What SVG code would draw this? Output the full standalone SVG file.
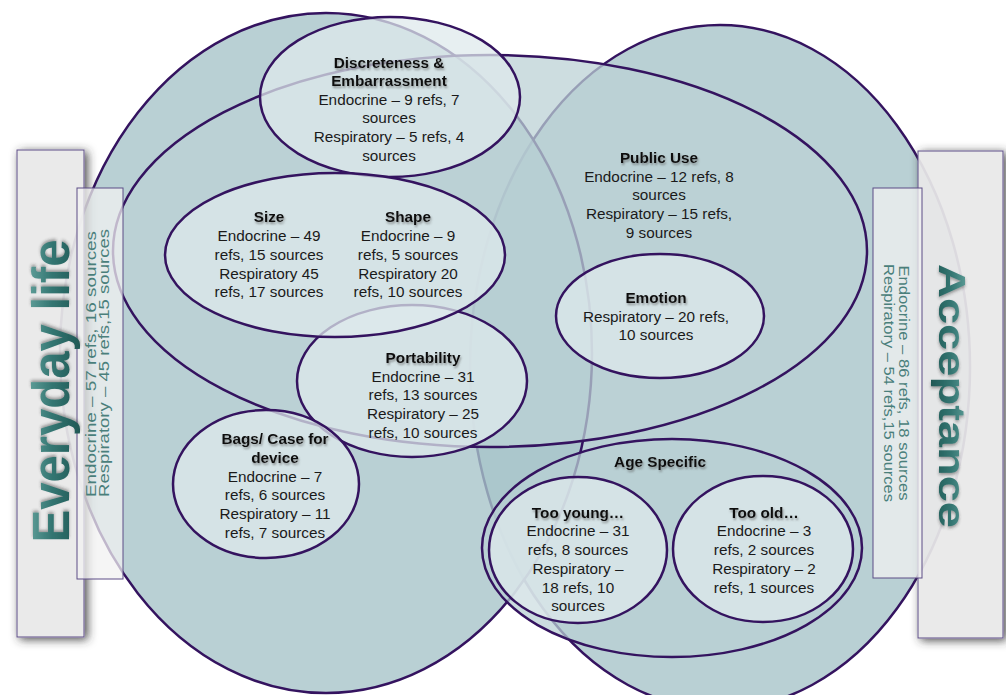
<svg xmlns="http://www.w3.org/2000/svg" width="1006" height="695" viewBox="0 0 1006 695">
  <defs>
    <style>
      .big { fill: #a8c4c9; fill-opacity: 0.8; stroke: #34135f; stroke-width: 2.5; }
      .mid { fill: #bcd1d5; fill-opacity: 0.74; stroke: #34135f; stroke-width: 2.5; }
      .lt { fill: #dfeaec; fill-opacity: 0.74; stroke: #34135f; stroke-width: 2.5; }
      .age { fill: #b9d0d4; fill-opacity: 0.74; stroke: #34135f; stroke-width: 2.5; }
      .t { font-family: "Liberation Sans", Arial, sans-serif; font-size: 15.3px; fill: #1a1a1a; text-anchor: middle; }
      .h { font-weight: bold; fill: #111; filter: url(#tsh); }
      .outer { fill: #e8e8e8; fill-opacity: 0.93; stroke: #5c4d86; stroke-width: 1; filter: url(#boxsh); }
      .inner { fill: #f2f2f2; fill-opacity: 0.74; stroke: #5c4d86; stroke-width: 1; }
      .bart { font-family: "Liberation Sans", Arial, sans-serif; font-size: 15px; fill: #4a7f7b; text-anchor: middle; }
      .bign { font-family: "Liberation Sans", Arial, sans-serif; font-weight: bold; fill: url(#teal); text-anchor: middle; filter: url(#bigsh); }
    </style>
    <linearGradient id="teal" x1="0" y1="0" x2="0" y2="1">
      <stop offset="0" stop-color="#6aa8a2"/>
      <stop offset="0.5" stop-color="#347672"/>
      <stop offset="1" stop-color="#1f5855"/>
    </linearGradient>
    <filter id="tsh" x="-10%" y="-30%" width="120%" height="160%">
      <feGaussianBlur in="SourceAlpha" stdDeviation="1.2"/>
      <feOffset dx="1" dy="1.5" result="b"/>
      <feFlood flood-color="#555" flood-opacity="0.6"/>
      <feComposite in2="b" operator="in"/>
      <feMerge><feMergeNode/><feMergeNode in="SourceGraphic"/></feMerge>
    </filter>
    <filter id="bigsh" x="-20%" y="-10%" width="140%" height="120%">
      <feGaussianBlur in="SourceAlpha" stdDeviation="1.5"/>
      <feOffset dx="2" dy="0" result="b"/>
      <feFlood flood-color="#333" flood-opacity="0.45"/>
      <feComposite in2="b" operator="in"/>
      <feMerge><feMergeNode/><feMergeNode in="SourceGraphic"/></feMerge>
    </filter>
    <filter id="boxsh" x="-40%" y="-10%" width="180%" height="120%">
      <feGaussianBlur in="SourceAlpha" stdDeviation="5"/>
      <feOffset dx="3" dy="2" result="b"/>
      <feFlood flood-color="#333" flood-opacity="0.95"/>
      <feComposite in2="b" operator="in" result="s"/>
      <feComposite in="s" in2="SourceAlpha" operator="out"/>
      <feMerge><feMergeNode/><feMergeNode in="SourceGraphic"/></feMerge>
    </filter>
  </defs>

  <!-- large theme circles -->
  <g id="acceptance-circle"><ellipse class="big" cx="720" cy="367" rx="250" ry="342"/></g>
  <g id="everyday-circle"><ellipse class="big" cx="326" cy="353" rx="266" ry="340"/></g>

  <!-- shared public-use band -->
  <g id="public-use">
    <ellipse class="mid" cx="490" cy="251" rx="377" ry="196"/>
    <text class="t h" x="659" y="163">Public Use</text>
    <text class="t" x="659" y="182">Endocrine – 12 refs, 8</text>
    <text class="t" x="659" y="200">sources</text>
    <text class="t" x="659" y="219">Respiratory – 15 refs,</text>
    <text class="t" x="659" y="238">9 sources</text>
  </g>

  <g id="discreteness">
    <ellipse class="lt" cx="390" cy="97" rx="130" ry="80"/>
    <text class="t h" x="389" y="68">Discreteness &amp;</text>
    <text class="t h" x="389" y="86">Embarrassment</text>
    <text class="t" x="389" y="105">Endocrine – 9 refs, 7</text>
    <text class="t" x="389" y="123">sources</text>
    <text class="t" x="389" y="142">Respiratory – 5 refs, 4</text>
    <text class="t" x="389" y="161">sources</text>
  </g>

  <g id="portability">
    <ellipse class="lt" cx="412" cy="381" rx="115" ry="76"/>
    <text class="t h" x="423" y="363">Portability</text>
    <text class="t" x="423" y="382">Endocrine – 31</text>
    <text class="t" x="423" y="400">refs, 13 sources</text>
    <text class="t" x="423" y="419">Respiratory – 25</text>
    <text class="t" x="423" y="438">refs, 10 sources</text>
  </g>

  <g id="size-shape">
    <ellipse class="lt" cx="335" cy="255" rx="170" ry="82"/>
    <text class="t h" x="269" y="222">Size</text>
    <text class="t" x="269" y="241">Endocrine – 49</text>
    <text class="t" x="269" y="260">refs, 15 sources</text>
    <text class="t" x="269" y="279">Respiratory 45</text>
    <text class="t" x="269" y="297">refs, 17 sources</text>
    <text class="t h" x="408" y="222">Shape</text>
    <text class="t" x="408" y="241">Endocrine – 9</text>
    <text class="t" x="408" y="260">refs, 5 sources</text>
    <text class="t" x="408" y="279">Respiratory 20</text>
    <text class="t" x="408" y="297">refs, 10 sources</text>
  </g>

  <g id="bags">
    <ellipse class="lt" cx="266" cy="484" rx="93" ry="74"/>
    <text class="t h" x="275" y="444">Bags/ Case for</text>
    <text class="t h" x="275" y="463">device</text>
    <text class="t" x="275" y="482">Endocrine – 7</text>
    <text class="t" x="275" y="500">refs, 6 sources</text>
    <text class="t" x="275" y="519">Respiratory – 11</text>
    <text class="t" x="275" y="538">refs, 7 sources</text>
  </g>

  <g id="emotion">
    <ellipse class="lt" cx="660" cy="316" rx="104" ry="62"/>
    <text class="t h" x="656" y="303">Emotion</text>
    <text class="t" x="656" y="322">Respiratory – 20 refs,</text>
    <text class="t" x="656" y="340">10 sources</text>
  </g>

  <g id="age-specific">
    <ellipse class="age" cx="672" cy="548" rx="190" ry="109"/>
    <text class="t h" x="660" y="467">Age Specific</text>
  </g>

  <g id="too-young">
    <ellipse class="lt" cx="578" cy="550" rx="89" ry="73"/>
    <text class="t h" x="578" y="518">Too young…</text>
    <text class="t" x="578" y="536">Endocrine – 31</text>
    <text class="t" x="578" y="555">refs, 8 sources</text>
    <text class="t" x="578" y="574">Respiratory –</text>
    <text class="t" x="578" y="593">18 refs, 10</text>
    <text class="t" x="578" y="611">sources</text>
  </g>

  <g id="too-old">
    <ellipse class="lt" cx="763" cy="549" rx="90" ry="73"/>
    <text class="t h" x="764" y="518">Too old…</text>
    <text class="t" x="764" y="536">Endocrine – 3</text>
    <text class="t" x="764" y="555">refs, 2 sources</text>
    <text class="t" x="764" y="574">Respiratory – 2</text>
    <text class="t" x="764" y="593">refs, 1 sources</text>
  </g>

  <!-- side label panels -->
  <g id="everyday-life-panel">
    <rect class="outer" x="17" y="150" width="67" height="487"/>
    <rect class="inner" x="77" y="188" width="46" height="391"/>
    <text class="bign" font-size="51" transform="translate(69,391) rotate(-90)" textLength="303" lengthAdjust="spacingAndGlyphs">Everyday life</text>
    <text class="bart" transform="translate(96,364) rotate(-90)" textLength="266" lengthAdjust="spacingAndGlyphs">Endocrine – 57 refs, 16 sources</text>
    <text class="bart" transform="translate(109,363) rotate(-90)" textLength="268" lengthAdjust="spacingAndGlyphs">Respiratory – 45 refs,15 sources</text>
  </g>

  <g id="acceptance-panel">
    <rect class="outer" x="918" y="151" width="85" height="487"/>
    <rect class="inner" x="873" y="188" width="49" height="390"/>
    <text class="bign" font-size="36" transform="translate(939,396) rotate(90)" textLength="264" lengthAdjust="spacingAndGlyphs">Acceptance</text>
    <text class="bart" transform="translate(899,383) rotate(90)" textLength="235" lengthAdjust="spacingAndGlyphs">Endocrine – 86 refs, 18 sources</text>
    <text class="bart" transform="translate(884,383) rotate(90)" textLength="238" lengthAdjust="spacingAndGlyphs">Respiratory – 54 refs,15 sources</text>
  </g>

  <g id="connectors"/>
</svg>
